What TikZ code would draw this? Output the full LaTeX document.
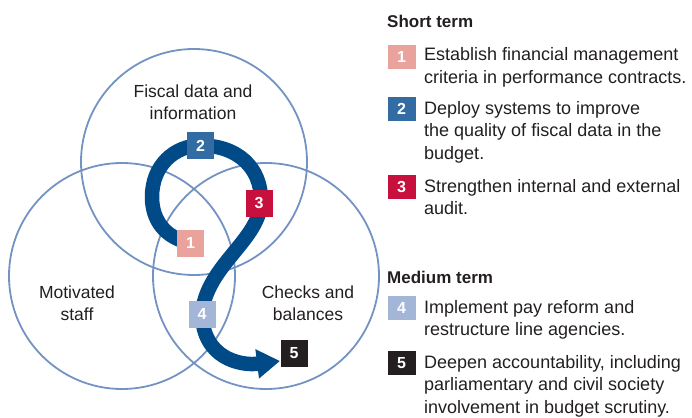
\documentclass[tikz,border=0pt]{standalone}
\usepackage{fontspec}
\setmainfont{Liberation Sans}
\usetikzlibrary{arrows.meta}
\definecolor{ring}{HTML}{7393C3}
\definecolor{flow}{HTML}{004B87}
\definecolor{cone}{HTML}{E9A29C}
\definecolor{ctwo}{HTML}{336BA3}
\definecolor{cthree}{HTML}{C8103F}
\definecolor{cfour}{HTML}{A3B6D8}
\definecolor{cfive}{HTML}{231F20}
\definecolor{ink}{HTML}{231F20}
\begin{document}
\begin{tikzpicture}[x=1pt,y=-1pt,
 ringc/.style={circle, draw=ring, line width=1.8pt, minimum size=226pt, inner sep=0pt},
 lab/.style={text=ink, font=\fontsize{17.5}{22}\selectfont, align=center, inner sep=0pt, anchor=base},
 num/.style={minimum width=27pt, minimum height=27pt, inner sep=0pt, text=white, font=\bfseries\fontsize{16}{16}\selectfont},
 lnum/.style={num, minimum height=24pt, minimum width=28pt},
 item/.style={text=ink, font=\fontsize{18}{22.5}\selectfont, align=left, inner sep=0pt, anchor=base west},
 head/.style={text=ink, font=\bfseries\fontsize{17}{22}\selectfont, inner sep=0pt, anchor=base west}]
\useasboundingbox (0,0) rectangle (692,417);
% circles
\node[ringc] (cfis) at (194,162) {};
\node[ringc] (cmot) at (122,276) {};
\node[ringc] (cchk) at (266,276) {};
% circle labels (anchor = baseline of last line)
\node[lab] (lfis) at (193,119) {Fiscal data and\\information};
\node[lab] (lmot) at (77,320) {Motivated\\staff};
\node[lab] (lchk) at (308,320) {Checks and\\balances};
% step boxes positions
\coordinate (p1) at (190.5,243);
\coordinate (p2) at (200.5,145.5);
\coordinate (p3) at (259,203.5);
\coordinate (p4) at (202,314);
\coordinate (p5) at (294,353);
\coordinate (tip) at (280,361);
% flow arrow
\draw[flow, line width=14.5pt, -{Triangle[length=23pt,width=28pt]}]
  (p1) .. controls (165,238) and (152,220) .. (152,197)
       .. controls (152,165) and (175,145.5) .. (p2)
       .. controls (238,145.5) and (261,168) .. (261,200)
       .. controls (261,240) and (206,265) .. (p4)
       .. controls (203,358) and (240,366) .. (tip);
\node[num, fill=cone] (b1) at (p1) {1};
\node[num, fill=ctwo] (b2) at (p2) {2};
\node[num, fill=cthree] (b3) at (p3) {3};
\node[num, fill=cfour] (b4) at (p4) {4};
\node[num, fill=cfive] (b5) at (p5) {5};
% legend (anchor = baseline of last line)
\node[head] (hs) at (387,28) {Short term};
\node[lnum, fill=cone] (k1) at (401.5,57) {1};
\node[item] (t1) at (424,83.5) {Establish financial management\\criteria in performance contracts.};
\node[lnum, fill=ctwo] (k2) at (401.5,109) {2};
\node[item] (t2) at (424,159) {Deploy systems to improve\\the quality of fiscal data in the\\budget.};
\node[lnum, fill=cthree] (k3) at (401.5,187) {3};
\node[item] (t3) at (424,214.5) {Strengthen internal and external\\audit.};
\node[head] (hm) at (387,283) {Medium term};
\node[lnum, fill=cfour] (k4) at (401.5,308) {4};
\node[item] (t4) at (424,335.5) {Implement pay reform and\\restructure line agencies.};
\node[lnum, fill=cfive] (k5) at (401.5,363) {5};
\node[item] (t5) at (424,413) {Deepen accountability, including\\parliamentary and civil society\\involvement in budget scrutiny.};
\end{tikzpicture}
\end{document}
